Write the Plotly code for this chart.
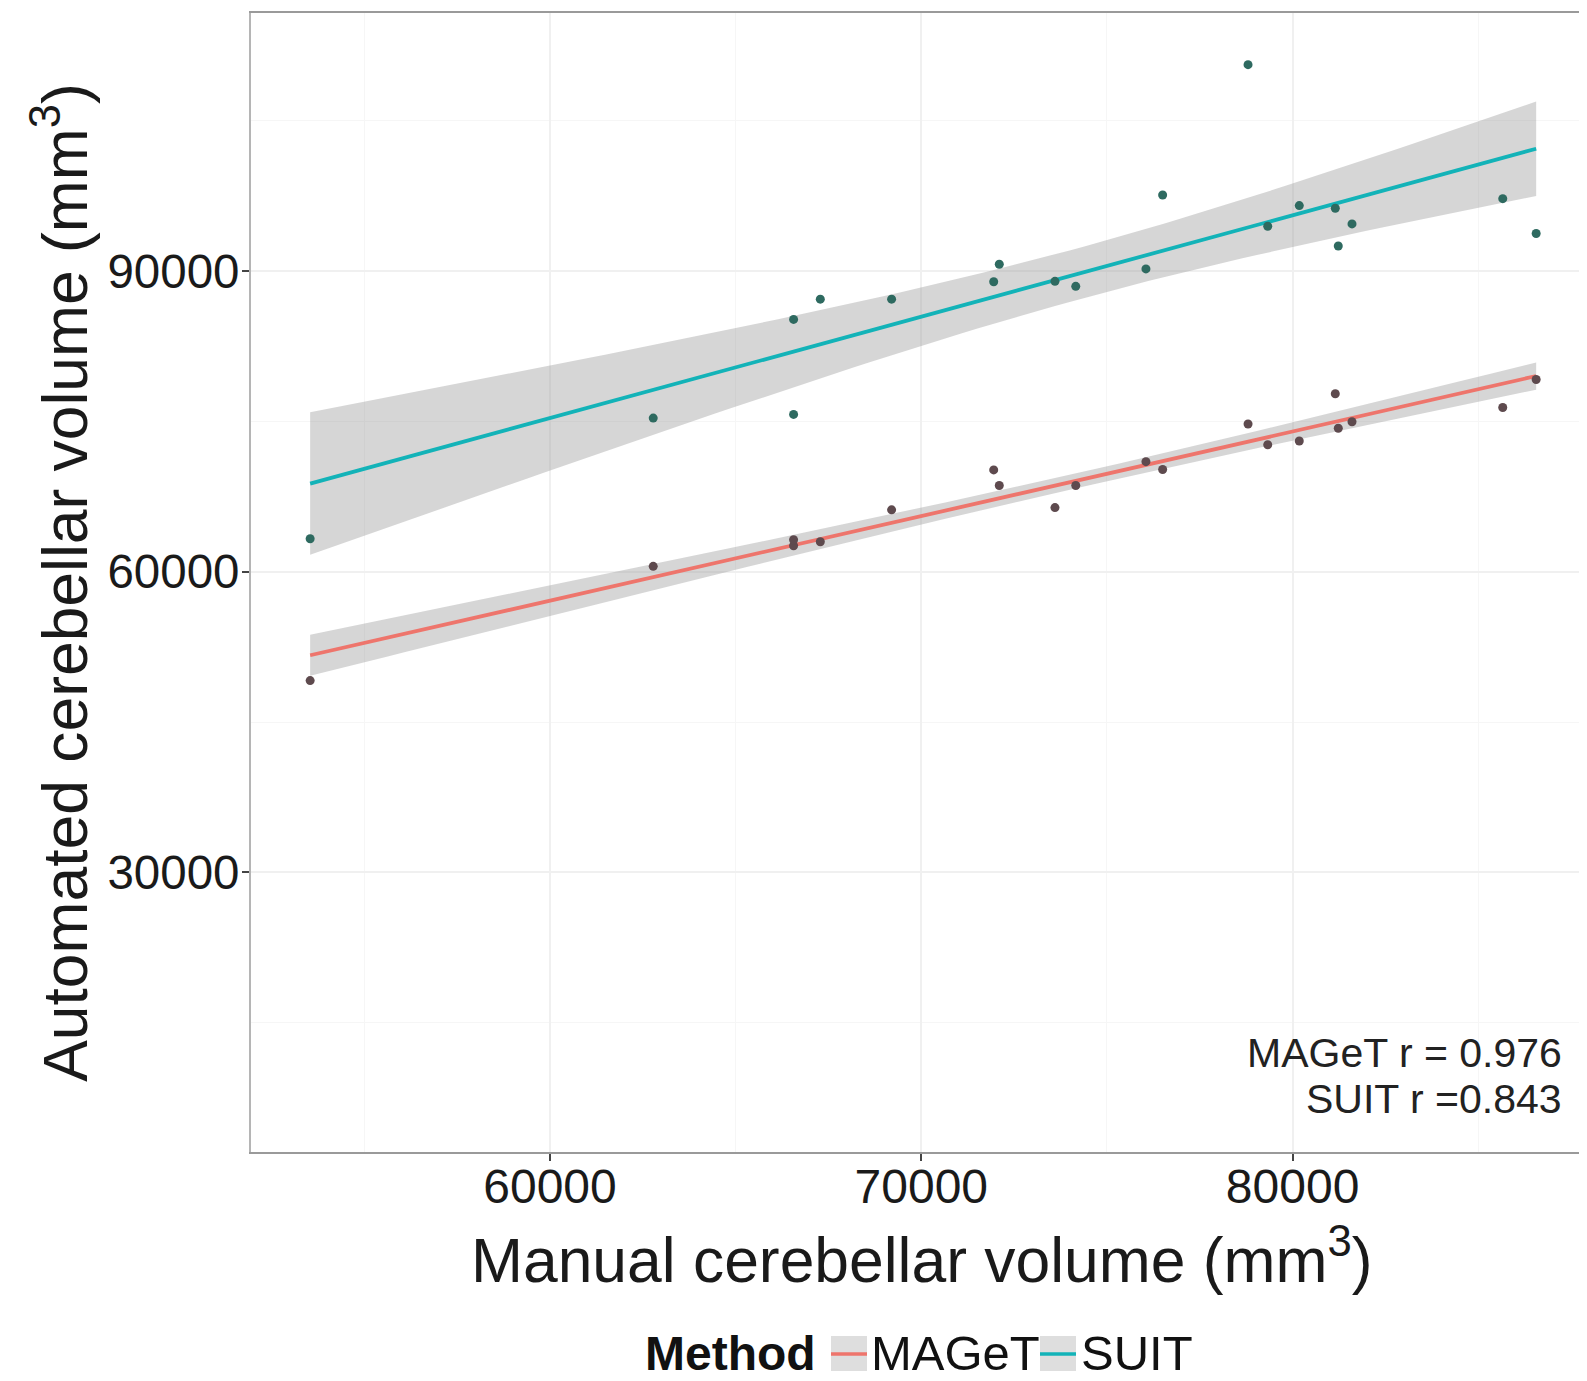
import numpy as np
import plotly.graph_objects as go

# Manual cerebellar volume (mm^3) per subject
manual = [53540, 62780, 66560, 66560, 67280, 69200, 71950, 72100, 73600, 74160,
          76050, 76500, 78800, 79330, 80180, 81150, 81230, 81600, 85660, 86560]
# Automated volumes by method
maget = [49140, 60545, 62600, 63200, 63000, 66180, 70165, 68610, 66410, 68610,
         70990, 70210, 74745, 72680, 73050, 77770, 74330, 74975, 76400, 79190]
suit = [63300, 75340, 75710, 85190, 87210, 87210, 88950, 90690, 88990, 88490,
        90230, 97600, 110610, 94490, 96550, 96280, 92520, 94720, 97240, 93760]

methods = ["MAGeT", "SUIT"]
line_colors = {"MAGeT": "#EE756C", "SUIT": "#13B3B8"}
point_colors = {"MAGeT": "#5E4A4E", "SUIT": "#2E6A60"}
annot_lines = ["MAGeT r = 0.976", "SUIT r =0.843"]
legend_title = "Method"
x_title = "Manual cerebellar volume (mm<sup>3</sup>)"
y_title = "Automated cerebellar volume (mm<sup>3</sup>)"

x_ticks = [60000, 70000, 80000]
y_ticks = [30000, 60000, 90000]

T_975_DF18 = 2.1009  # t quantile for 95% CI, n-2 = 18 df

FONT = "Liberation Sans, Arial, sans-serif"
OFF = 8  # page body margin
W, H = 1587 - OFF, 1381 - OFF
# plot area in page pixels: left 251, right 1587 (panel continues past the crop), top 13, bottom 1152
P_L, P_R, P_T, P_B = 251, 1587, 13, 1152
ML, MT = P_L - OFF, P_T - OFF
PW, PH = P_R - P_L, P_B - P_T
MR, MB = W - ML - PW, H - MT - PH


def px(pxl):  # page x pixel -> paper
    return (pxl - P_L) / PW


def py(pyl):  # page y pixel -> paper
    return (P_B - pyl) / PH


fig = go.Figure()

x = np.array(manual, dtype=float)
for m, yv in zip(methods, [maget, suit]):
    y = np.array(yv, dtype=float)
    n = len(x)
    b, a = np.polyfit(x, y, 1)
    resid = y - (a + b * x)
    s = np.sqrt(np.sum(resid ** 2) / (n - 2))
    xbar = x.mean()
    sxx = np.sum((x - xbar) ** 2)
    xs = np.linspace(x.min(), x.max(), 80)
    ys = a + b * xs
    se = s * np.sqrt(1.0 / n + (xs - xbar) ** 2 / sxx)
    lo = ys - T_975_DF18 * se
    hi = ys + T_975_DF18 * se
    fig.add_trace(go.Scatter(
        x=np.concatenate([xs, xs[::-1]]), y=np.concatenate([hi, lo[::-1]]),
        fill="toself", fillcolor="rgba(153,153,153,0.4)", line=dict(width=0),
        hoverinfo="skip", showlegend=False, mode="lines"))
    fig.add_trace(go.Scatter(
        x=xs, y=ys, mode="lines", name=m, showlegend=False,
        line=dict(color=line_colors[m], width=3.8)))

for m, yv in zip(methods, [maget, suit]):
    fig.add_trace(go.Scatter(
        x=manual, y=yv, mode="markers", showlegend=False,
        marker=dict(color=point_colors[m], size=9, line=dict(width=0))))

# r annotations
fig.add_annotation(x=px(1564), y=py(1053), xref="paper", yref="paper",
                   text=annot_lines[0], showarrow=False, xanchor="right",
                   yanchor="middle", font=dict(size=41, color="#222222", family=FONT))
fig.add_annotation(x=px(1564), y=py(1099), xref="paper", yref="paper",
                   text=annot_lines[1], showarrow=False, xanchor="right",
                   yanchor="middle", font=dict(size=41, color="#222222", family=FONT))

# x axis title (centred on the full ggplot panel, which runs past the crop)
fig.add_annotation(x=px(922), y=py(1297), xref="paper", yref="paper",
                   text=x_title, showarrow=False, xanchor="center", yanchor="bottom",
                   font=dict(size=62.4, color="#1a1a1a", family=FONT))

# legend drawn by hand (ggplot style keys: grey box with coloured line)
LEG_Y = 1353
fig.add_annotation(x=px(818), y=py(LEG_Y), xref="paper", yref="paper",
                   text="<b>" + legend_title + "</b>", showarrow=False, xanchor="right",
                   yanchor="middle", font=dict(size=48, color="#111", family=FONT))
key_pos = {"MAGeT": (831, 869), "SUIT": (1040, 1079)}
for m in methods:
    k0, tx = key_pos[m]
    fig.add_shape(type="rect", xref="paper", yref="paper",
                  x0=px(k0), x1=px(k0 + 36), y0=py(LEG_Y - 17), y1=py(LEG_Y + 18),
                  fillcolor="rgba(153,153,153,0.32)", line=dict(width=0), layer="above")
    fig.add_shape(type="line", xref="paper", yref="paper",
                  x0=px(k0), x1=px(k0 + 36), y0=py(LEG_Y + 1), y1=py(LEG_Y + 1),
                  line=dict(color=line_colors[m], width=3.5), layer="above")
    fig.add_annotation(x=px(tx), y=py(LEG_Y), xref="paper", yref="paper",
                       text=m, showarrow=False, xanchor="left", yanchor="middle",
                       font=dict(size=49, color="#111", family=FONT))

grid = "#F0F0F0"
fig.update_layout(
    width=W, height=H,
    margin=dict(l=ML, r=MR, t=MT, b=MB, autoexpand=False),
    paper_bgcolor="white", plot_bgcolor="white",
    font=dict(family=FONT, color="#1a1a1a"),
    showlegend=False,
    xaxis=dict(range=[51947, 87929], tickvals=x_ticks, ticktext=[str(v) for v in x_ticks],
               automargin=False,
               showgrid=True, gridcolor=grid, gridwidth=1.5,
               minor=dict(dtick=5000, tick0=55000, showgrid=True, gridcolor="#F6F6F6", gridwidth=1),
               zeroline=False, showline=True, linecolor="#9A9A9A", linewidth=2, mirror=True,
               ticks="outside", ticklen=7, tickcolor="#444", tickwidth=2,
               ticklabelstandoff=-16,
               tickfont=dict(size=48, family=FONT, color="#1a1a1a")),
    yaxis=dict(range=[2096, 115768], tickvals=y_ticks, ticktext=[str(v) for v in y_ticks],
               automargin=False,
               showgrid=True, gridcolor=grid, gridwidth=1.5,
               minor=dict(dtick=15000, tick0=15000, showgrid=True, gridcolor="#F6F6F6", gridwidth=1),
               zeroline=False, showline=True, linecolor="#B5B5B5", linewidth=2, mirror=False,
               ticks="outside", ticklen=7, tickcolor="#444", tickwidth=2,
               ticklabelstandoff=-7,
               tickfont=dict(size=47.5, family=FONT, color="#1a1a1a"),
               title=dict(text=y_title,
                          font=dict(size=62.4, family=FONT, color="#1a1a1a"), standoff=0)),
)

fig.write_html("out.html")
